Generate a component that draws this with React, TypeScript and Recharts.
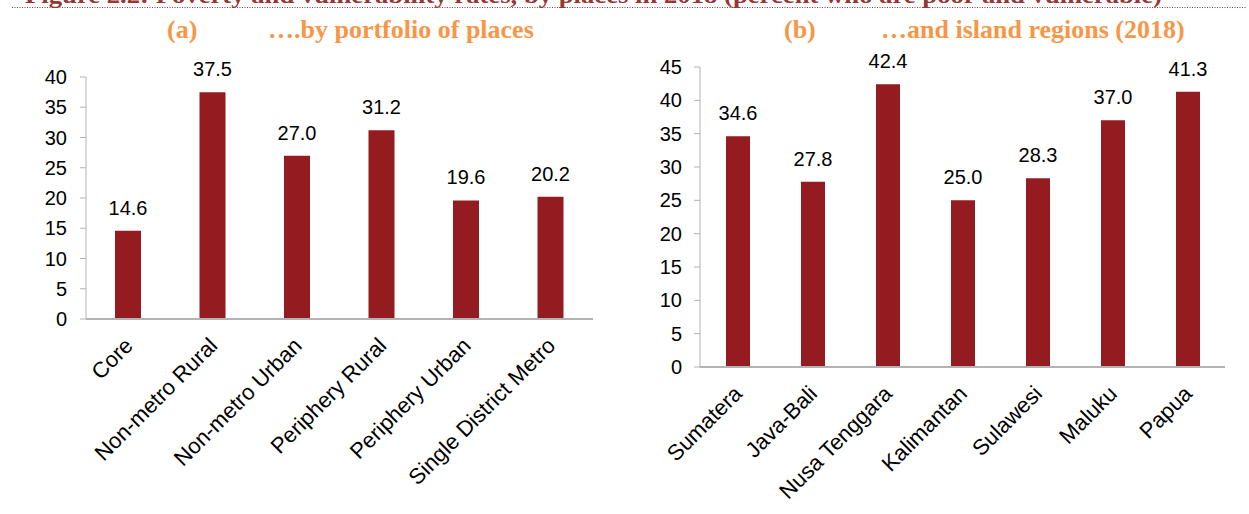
import React from 'react';
import { BarChart, Bar, XAxis, YAxis, LabelList } from 'recharts';

// (a) portfolio of places
const placeNames = ['Core', 'Non-metro Rural', 'Non-metro Urban', 'Periphery Rural', 'Periphery Urban', 'Single District Metro'];
const placeRates = [14.6, 37.5, 27.0, 31.2, 19.6, 20.2];
const placeTicks = [0, 5, 10, 15, 20, 25, 30, 35, 40];

// (b) island regions
const regionNames = ['Sumatera', 'Java-Bali', 'Nusa Tenggara', 'Kalimantan', 'Sulawesi', 'Maluku', 'Papua'];
const regionRates = [34.6, 27.8, 42.4, 25.0, 28.3, 37.0, 41.3];
const regionTicks = [0, 5, 10, 15, 20, 25, 30, 35, 40, 45];

const figureTitle = 'Figure 2.2: Poverty and vulnerability rates, by places in 2018 (percent who are poor and vulnerable)';

const SANS = '"Liberation Sans", Arial, sans-serif';
const SERIF = '"Liberation Serif", "Times New Roman", serif';
const BAR = '#941c21';
const AXIS = '#b3b3b3';
const ORANGE = '#f79646';
const DARK_RED = '#953735';

const placeData = placeNames.map((name, i) => ({ name, value: placeRates[i] }));
const regionData = regionNames.map((name, i) => ({ name, value: regionRates[i] }));

const fmt = (v: any) => Number(v).toFixed(1);

// rotated category label, end of text sits just under the category centre
function SlantTick(props: any) {
    const { x, y, payload } = props;
    const px = x + 6;
    const py = y + 28;
    return (
        <text
            x={px}
            y={py}
            transform={`rotate(-45, ${px}, ${py})`}
            textAnchor="end"
            fontSize={22}
            fontFamily={SANS}
            fill="#000"
        >
            {payload.value}
        </text>
    );
}

interface PanelProps {
    data: { name: string; value: number }[];
    ticks: number[];
    width: number;
    yWidth: number;
    top: number;
    right: number;
    xHeight: number;
    barSize: number;
    tickMargin: number;
}

function Panel({ data, ticks, width, yWidth, top, right, xHeight, barSize, tickMargin }: PanelProps) {
    return (
        <BarChart width={width} height={514} data={data} margin={{ top, right, left: 0, bottom: 0 }}>
            <XAxis
                dataKey="name"
                interval={0}
                height={xHeight}
                tickLine={false}
                tickSize={0}
                tickMargin={0}
                axisLine={{ stroke: AXIS, strokeWidth: 2 }}
                tick={(p: any) => <SlantTick {...p} />}
            />
            <YAxis
                type="number"
                domain={[ticks[0], ticks[ticks.length - 1]]}
                ticks={ticks}
                interval={0}
                width={yWidth}
                tickSize={6}
                tickMargin={tickMargin}
                axisLine={{ stroke: AXIS }}
                tickLine={{ stroke: AXIS }}
                tick={{ fill: '#000', fontSize: 20, fontFamily: SANS }}
            />
            <Bar dataKey="value" fill={BAR} barSize={barSize} isAnimationActive={false}>
                <LabelList
                    dataKey="value"
                    position="top"
                    offset={16}
                    formatter={fmt}
                    fill="#000"
                    fontSize={20}
                    fontFamily={SANS}
                />
            </Bar>
        </BarChart>
    );
}

export default function App() {
    return (
        <div style={{ position: 'absolute', left: 0, top: 0, width: 1249, height: 514, background: '#fff', overflow: 'hidden' }}>
            <div style={{ position: 'absolute', left: 0, top: 0 }}>
                <Panel data={placeData} ticks={placeTicks} width={620} yWidth={86} top={77} right={27} xHeight={195} barSize={26} tickMargin={13} />
            </div>
            <div style={{ position: 'absolute', left: 620, top: 0 }}>
                <Panel data={regionData} ticks={regionTicks} width={629} yWidth={80} top={67} right={24} xHeight={147} barSize={24} tickMargin={12} />
            </div>
            <svg width={1249} height={60} style={{ position: 'absolute', left: 0, top: 0, pointerEvents: 'none' }}>
                <text x={25} y={2.5} fontFamily={SERIF} fontWeight="bold" fontSize={24} fill={DARK_RED} textLength={1137} lengthAdjust="spacingAndGlyphs">
                    {figureTitle}
                </text>
                <line x1={12} y1={7.5} x2={1246} y2={7.5} stroke={DARK_RED} strokeWidth={1} strokeDasharray="1 1.5" />
                <text x={167} y={37.5} fontFamily={SERIF} fontWeight="bold" fontSize={26} fill={ORANGE}>(a)</text>
                <text x={268} y={37.5} fontFamily={SERIF} fontWeight="bold" fontSize={26} fill={ORANGE}>….by portfolio of places</text>
                <text x={784} y={37.5} fontFamily={SERIF} fontWeight="bold" fontSize={26} fill={ORANGE}>(b)</text>
                <text x={881} y={37.5} fontFamily={SERIF} fontWeight="bold" fontSize={26} fill={ORANGE}>…and island regions (2018)</text>
            </svg>
        </div>
    );
}
